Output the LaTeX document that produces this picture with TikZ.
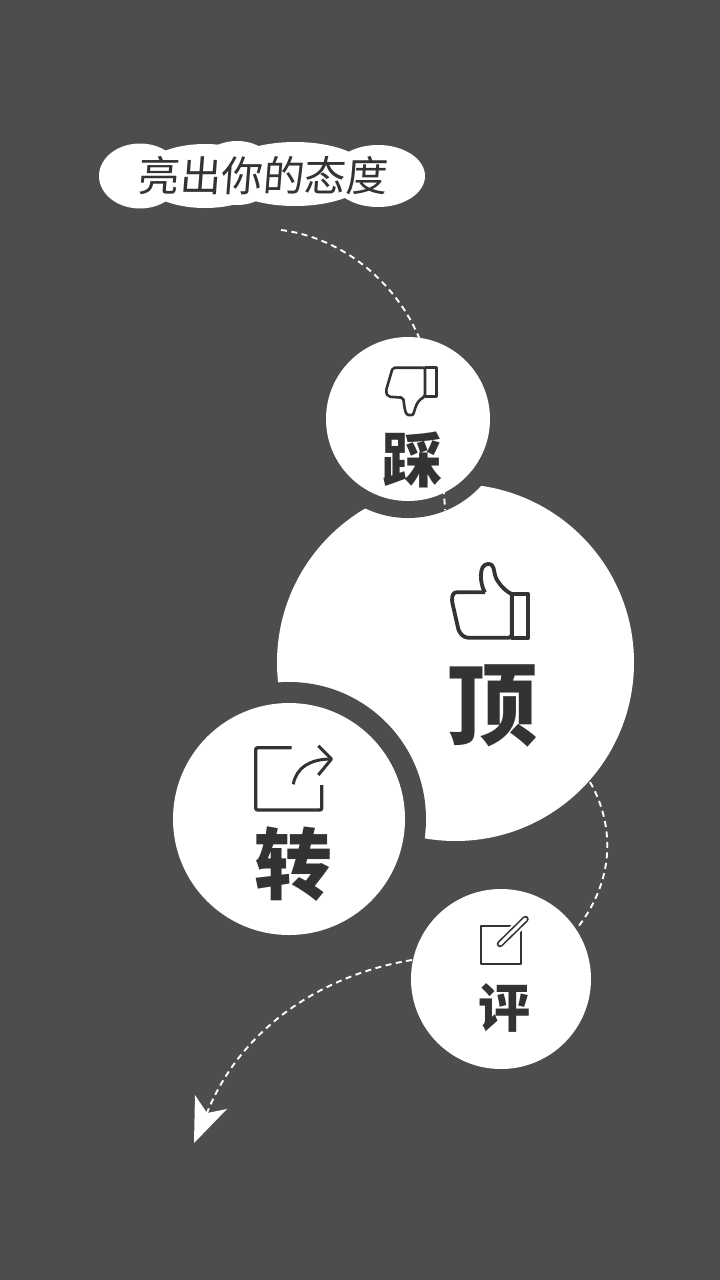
\documentclass[tikz,border=0pt]{standalone}
\usepackage{fontspec}
\newfontfamily\cjkheavy{Noto Sans CJK SC Black}
\newfontfamily\cjkhand[FakeSlant=0.08]{Noto Sans CJK SC}
\definecolor{bg}{HTML}{4D4D4D}
\definecolor{ink}{HTML}{333333}
\tikzset{
  disc/.style={circle,fill=white,draw=none,inner sep=0pt,minimum size=#1},
  gap/.style={circle,fill=bg,draw=none,inner sep=0pt,minimum size=#1},
  dashline/.style={draw=white,line width=1.9pt,dash pattern=on 6pt off 4.5pt},
  icon/.style={draw=ink,line join=round,fill=none},
  heavy/.style={text=ink,inner sep=0pt,font=\cjkheavy\fontsize{#1}{#1}\selectfont},
  cloudpart/.style={fill=white,draw=none}
}
\begin{document}
\begin{tikzpicture}[x=1pt,y=-1pt]
\useasboundingbox (0,0) rectangle (720,1280);
\fill[bg] (0,0) rectangle (720,1280);
% cloud
\fill[cloudpart] (140,176) ellipse [x radius=41,y radius=32.5];
\fill[cloudpart] (205,176) ellipse [x radius=65,y radius=32];
\fill[cloudpart] (237,173) ellipse [x radius=40,y radius=32];
\fill[cloudpart] (295,174) ellipse [x radius=75,y radius=32];
\fill[cloudpart] (378,176) ellipse [x radius=47,y radius=31];
\node[text=ink,inner sep=0pt,font=\cjkhand\fontsize{41.5}{41.5}\selectfont] (slogan) at (262,176) {亮出你的态度};
% big disc and gaps
\node[disc=357pt] (ding) at (455.5,662.5) {};
\node[gap=198pt] (caigap) at (408,419) {};
\node[gap=274pt] (zhuangap) at (289,819) {};
% free ends
\coordinate (s1) at (281,230);
\coordinate (s2) at (420,340);
\coordinate (s3) at (445,510);
\coordinate (p1) at (590,782);
\coordinate (p2) at (578,927);
\coordinate (q1) at (412,960);
\coordinate (q2) at (207,1113);
\draw[dashline] (s1) .. controls (345,238) and (398,285) .. (s2) .. controls (432,370) and (442,450) .. (s3);
\draw[dashline] (p1) .. controls (612,820) and (618,875) .. (p2);
\draw[dashline] (q1) .. controls (320,975) and (240,1030) .. (q2);
\fill[white] (194,1143) -- (195,1095) -- (207,1113) -- (227,1109) -- cycle;
% discs
\node[disc=164pt] (cai) at (408,419) {};
\node[disc=232pt] (zhuan) at (289,819) {};
\node[disc=180pt] (ping) at (501,979) {};
% labels
\node[heavy=60] (tcai) at (412,460) {踩};
\node[heavy=90] (tding) at (492,706) {顶};
\node[heavy=78] (tzhuan) at (293,864) {转};
\node[heavy=52] (tping) at (504,1008) {评};
% thumb down
\draw[icon,line width=2.6pt,rounded corners=2pt] (425,367.7) -- (392.7,367.7) -- (385.7,391.7) -- (388.3,396.7) -- (403.3,397.7)
  .. controls (404,404) and (405,415) .. (410,415) .. controls (415,415) and (414,402) .. (425,396.7) -- cycle;
\draw[icon,line width=2.6pt] (425,367.7) rectangle (436.7,396.7);
% thumb up
\draw[icon,line width=3.8pt,rounded corners=3pt] (485,592.3) -- (453.3,592.3) -- (451.7,600) -- (459,632) -- (465,637.7) -- (511.7,637.7) -- (511.7,594);
\draw[icon,line width=3.8pt] (485,592.3) .. controls (480,585) and (478,564) .. (488,564) .. controls (495,564) and (493,570) .. (496,578) .. controls (499,584) and (505,591) .. (511.7,594);
\draw[icon,line width=3.8pt] (511.7,594) rectangle (528.3,637.7);
% share
\draw[icon,line width=3.4pt,rounded corners=2pt] (291.7,747.7) -- (255.7,747.7) -- (255.7,810) -- (321.7,810) -- (321.7,785);
\draw[icon,line width=3pt] (293.3,784.3) .. controls (296,768) and (310,759) .. (331,759);
\draw[icon,line width=3pt] (318.3,745.7) -- (331.5,759) -- (318.3,775);
% edit
\draw[icon,line width=2.2pt] (480.7,926) rectangle (520.7,964);
\draw[white,line width=11pt] (500,944) -- (525.5,919);
\draw[ink,line width=6.5pt,line cap=round] (500,944) -- (525.5,919);
\draw[white,line width=3.2pt,line cap=round] (500,944) -- (525.5,919);
\end{tikzpicture}
\end{document}
